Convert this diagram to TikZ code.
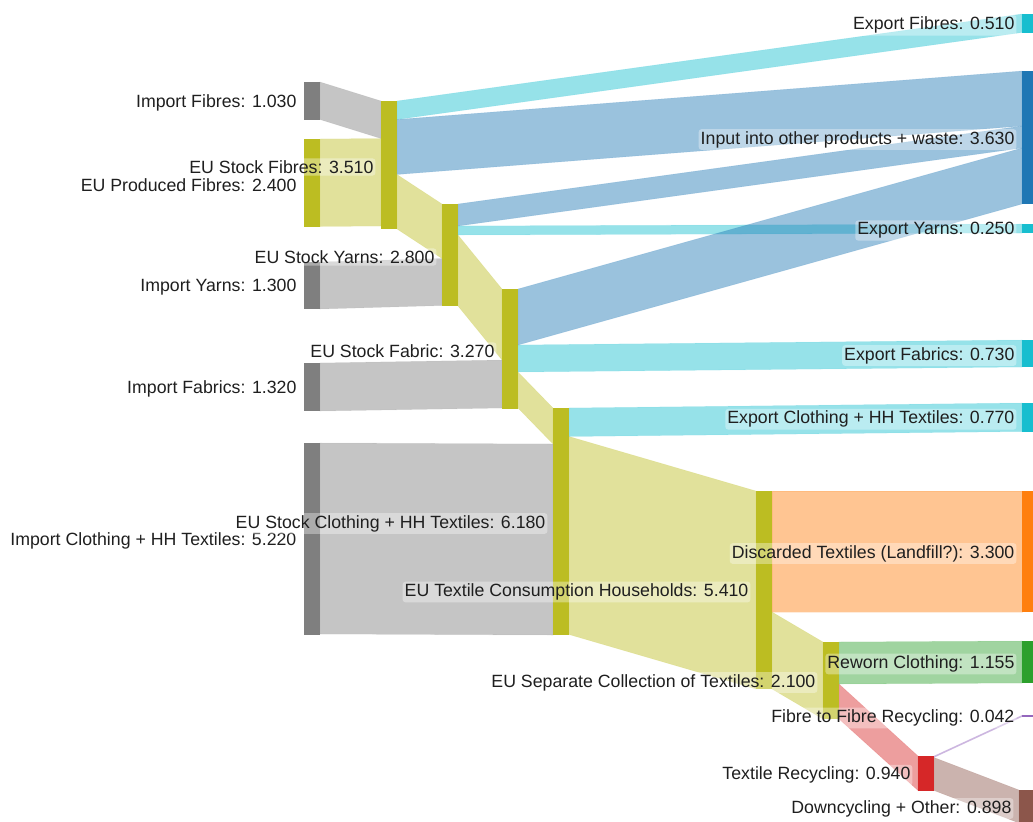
\documentclass[tikz,border=0pt]{standalone}
\usepackage{fontspec}
\setmainfont{Liberation Sans}
\usetikzlibrary{positioning,calc}
\definecolor{sgrey}{HTML}{7F7F7F}
\definecolor{solive}{HTML}{BCBD22}
\definecolor{scyan}{HTML}{17BECF}
\definecolor{sblue}{HTML}{1F77B4}
\definecolor{sorange}{HTML}{FF7F0E}
\definecolor{sgreen}{HTML}{2CA02C}
\definecolor{sred}{HTML}{D62728}
\definecolor{spurple}{HTML}{9467BD}
\definecolor{sbrown}{HTML}{8C564B}
\begin{document}
\begin{tikzpicture}[x=0.75pt, y=-0.75pt,
		snode/.style={rectangle, draw=none, fill=#1, inner sep=0pt, outer sep=0pt, minimum width=12pt},
		flow/.style={fill=#1, fill opacity=0.45, draw=#1, draw opacity=0.15, line width=0.4pt},
		lbl/.style={anchor=east, yshift=-1.5pt, font=\fontsize{13.3pt}{15pt}\selectfont, text=black!88, fill=white, fill opacity=0.35, text opacity=1, rounded corners=2pt, inner sep=1.5pt}]
		\clip (0,0) rectangle (1033,822);
		% nodes
		\node[snode=sgrey, minimum height=28.5pt](impFib) at (312,101){};
		\node[snode=solive, minimum height=65.625pt](prodFib) at (312,182.75){};
		\node[snode=sgrey, minimum height=35.25pt](impYrn) at (312,285.5){};
		\node[snode=sgrey, minimum height=36pt](impFab) at (312,387){};
		\node[snode=sgrey, minimum height=144pt](impClo) at (312,539){};
		\node[snode=solive, minimum height=96pt](stkFib) at (389,165){};
		\node[snode=solive, minimum height=76.5pt](stkYrn) at (450,255){};
		\node[snode=solive, minimum height=90pt](stkFab) at (510,349){};
		\node[snode=solive, minimum height=170.25pt](stkClo) at (561,521.5){};
		\node[snode=solive, minimum height=148.5pt](consHH) at (764,590){};
		\node[snode=solive, minimum height=57.75pt](sepCol) at (831,680.5){};
		\node[snode=sred, minimum height=25.875pt](texRec) at (926,773.25){};
		\node[snode=scyan, minimum height=13.875pt](expFib) at (1030,23.25){};
		\node[snode=sblue, minimum height=99.75pt](inpOth) at (1030,137.5){};
		\node[snode=scyan, minimum height=6.75pt](expYrn) at (1030,228.5){};
		\node[snode=scyan, minimum height=20.25pt](expFab) at (1030,353.5){};
		\node[snode=scyan, minimum height=21.375pt](expClo) at (1030,417.25){};
		\node[snode=sorange, minimum height=90.75pt](discTx) at (1030,551.5){};
		\node[snode=sgreen, minimum height=31.5pt](rewClo) at (1030,662){};
		\node[snode=spurple, minimum height=1.125pt](fibRec) at (1030,716){};
		\node[snode=sbrown, minimum height=24.75pt](downCy) at (1027,806.5){};
		% flows
		\fill[flow=sgrey] (impFib.north east) -- (stkFib.north west) -- ($(stkFib.north west)+(0,37.5)$) -- ($(impFib.north east)+(0,37.5)$) -- cycle;
		\fill[flow=solive] (prodFib.north east) -- ($(stkFib.north west)+(0,37.5)$) -- ($(stkFib.north west)+(0,125)$) -- ($(prodFib.north east)+(0,87.5)$) -- cycle;
		\fill[flow=scyan] (stkFib.north east) -- (expFib.north west) -- ($(expFib.north west)+(0,18.5)$) -- ($(stkFib.north east)+(0,18.5)$) -- cycle;
		\fill[flow=sblue] ($(stkFib.north east)+(0,18.5)$) -- (inpOth.north west) -- ($(inpOth.north west)+(0,55)$) -- ($(stkFib.north east)+(0,73.5)$) -- cycle;
		\fill[flow=solive] ($(stkFib.north east)+(0,73.5)$) -- (stkYrn.north west) -- ($(stkYrn.north west)+(0,54.5)$) -- (stkFib.south east) -- cycle;
		\fill[flow=sgrey] (impYrn.north east) -- ($(stkYrn.north west)+(0,54.5)$) -- ($(stkYrn.north west)+(0,101.5)$) -- ($(impYrn.north east)+(0,47)$) -- cycle;
		\fill[flow=sblue] (stkYrn.north east) -- ($(inpOth.north west)+(0,55)$) -- ($(inpOth.north west)+(0,77)$) -- ($(stkYrn.north east)+(0,22)$) -- cycle;
		\fill[flow=scyan] ($(stkYrn.north east)+(0,22)$) -- (expYrn.north west) -- (expYrn.south west) -- ($(stkYrn.north east)+(0,31)$) -- cycle;
		\fill[flow=solive] ($(stkYrn.north east)+(0,31)$) -- (stkFab.north west) -- ($(stkFab.north west)+(0,71)$) -- ($(stkYrn.north east)+(0,102)$) -- cycle;
		\fill[flow=sgrey] (impFab.north east) -- ($(stkFab.north west)+(0,71)$) -- ($(stkFab.north west)+(0,119)$) -- ($(impFab.north east)+(0,48)$) -- cycle;
		\fill[flow=sblue] (stkFab.north east) -- ($(inpOth.north west)+(0,77)$) -- ($(inpOth.north west)+(0,133)$) -- ($(stkFab.north east)+(0,56)$) -- cycle;
		\fill[flow=scyan] ($(stkFab.north east)+(0,56)$) -- (expFab.north west) -- (expFab.south west) -- ($(stkFab.north east)+(0,83)$) -- cycle;
		\fill[flow=solive] ($(stkFab.north east)+(0,83)$) -- (stkClo.north west) -- ($(stkClo.north west)+(0,36)$) -- ($(stkFab.north east)+(0,119)$) -- cycle;
		\fill[flow=sgrey] (impClo.north east) -- ($(stkClo.north west)+(0,36)$) -- ($(stkClo.north west)+(0,227)$) -- ($(impClo.north east)+(0,191)$) -- cycle;
		\fill[flow=scyan] (stkClo.north east) -- (expClo.north west) -- (expClo.south west) -- ($(stkClo.north east)+(0,28.5)$) -- cycle;
		\fill[flow=solive] ($(stkClo.north east)+(0,28.5)$) -- (consHH.north west) -- (consHH.south west) -- ($(stkClo.north east)+(0,226.5)$) -- cycle;
		\fill[flow=sorange] (consHH.north east) -- (discTx.north west) -- (discTx.south west) -- ($(consHH.north east)+(0,121)$) -- cycle;
		\fill[flow=solive] ($(consHH.north east)+(0,121)$) -- (sepCol.north west) -- (sepCol.south west) -- (consHH.south east) -- cycle;
		\fill[flow=sgreen] (sepCol.north east) -- (rewClo.north west) -- (rewClo.south west) -- ($(sepCol.north east)+(0,42)$) -- cycle;
		\fill[flow=sred] ($(sepCol.north east)+(0,42)$) -- (texRec.north west) -- (texRec.south west) -- (sepCol.south east) -- cycle;
		\fill[flow=spurple] (texRec.north east) -- (fibRec.north west) -- (fibRec.south west) -- ($(texRec.north east)+(0,1.5)$) -- cycle;
		\fill[flow=sbrown] ($(texRec.north east)+(0,1.5)$) -- (downCy.north west) -- (downCy.south west) -- (texRec.south east) -- cycle;
		% nodes again on top of the flows
		\foreach \n/\c in {impFib/sgrey, prodFib/solive, impYrn/sgrey, impFab/sgrey, impClo/sgrey, stkFib/solive, stkYrn/solive, stkFab/solive, stkClo/solive, consHH/solive, sepCol/solive, texRec/sred, expFib/scyan, inpOth/sblue, expYrn/scyan, expFab/scyan, expClo/scyan, discTx/sorange, rewClo/sgreen, fibRec/spurple, downCy/sbrown}
			\fill[\c] (\n.north west) rectangle (\n.south east);
		% labels
		\node[lbl, left=4pt of impFib](impFibLbl){Import Fibres: 1.030};
		\node[lbl, left=4pt of prodFib](prodFibLbl){EU Produced Fibres: 2.400};
		\node[lbl, left=4pt of impYrn](impYrnLbl){Import Yarns: 1.300};
		\node[lbl, left=4pt of impFab](impFabLbl){Import Fabrics: 1.320};
		\node[lbl, left=4pt of impClo](impCloLbl){Import Clothing + HH Textiles: 5.220};
		\node[lbl, left=4pt of stkFib](stkFibLbl){EU Stock Fibres: 3.510};
		\node[lbl, left=4pt of stkYrn](stkYrnLbl){EU Stock Yarns: 2.800};
		\node[lbl, left=4pt of stkFab](stkFabLbl){EU Stock Fabric: 3.270};
		\node[lbl, left=4pt of stkClo](stkCloLbl){EU Stock Clothing + HH Textiles: 6.180};
		\node[lbl, left=4pt of consHH](consHHLbl){EU Textile Consumption Households: 5.410};
		\node[lbl, left=4pt of sepCol](sepColLbl){EU Separate Collection of Textiles: 2.100};
		\node[lbl, left=4pt of texRec](texRecLbl){Textile Recycling: 0.940};
		\node[lbl, left=4pt of expFib](expFibLbl){Export Fibres: 0.510};
		\node[lbl, left=4pt of inpOth](inpOthLbl){Input into other products + waste: 3.630};
		\node[lbl, left=4pt of expYrn](expYrnLbl){Export Yarns: 0.250};
		\node[lbl, left=4pt of expFab](expFabLbl){Export Fabrics: 0.730};
		\node[lbl, left=4pt of expClo](expCloLbl){Export Clothing + HH Textiles: 0.770};
		\node[lbl, left=4pt of discTx](discTxLbl){Discarded Textiles (Landfill?): 3.300};
		\node[lbl, left=4pt of rewClo](rewCloLbl){Reworn Clothing: 1.155};
		\node[lbl, left=4pt of fibRec](fibRecLbl){Fibre to Fibre Recycling: 0.042};
		\node[lbl, left=4pt of downCy](downCyLbl){Downcycling + Other: 0.898};
	\end{tikzpicture}
\end{document}
